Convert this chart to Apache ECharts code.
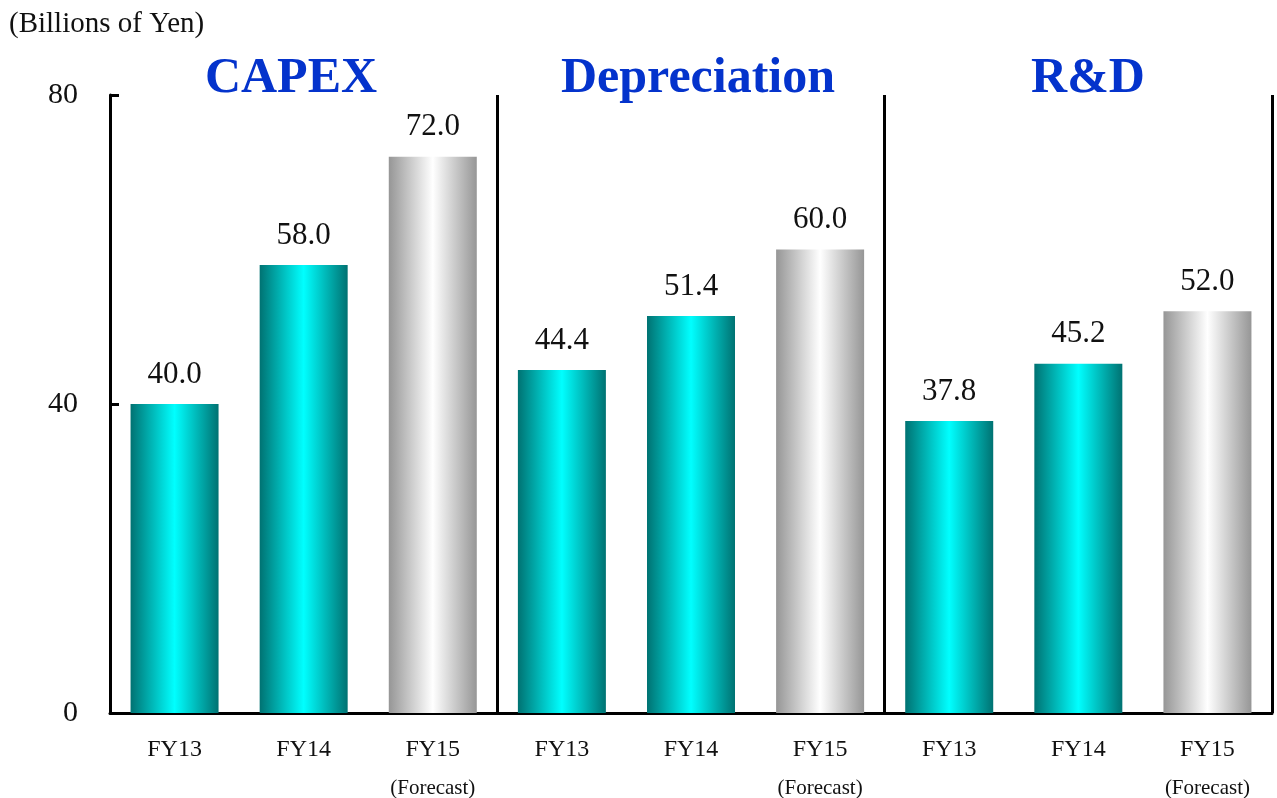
<!DOCTYPE html>
<html><head><meta charset="utf-8">
<script src="https://cdn.jsdelivr.net/npm/echarts@6/dist/echarts.min.js"></script>
<style>html,body{margin:0;padding:0;background:#fff}#c{width:1277px;height:798px}</style>
</head><body><div id="c"></div>
<script>
const groups = ['CAPEX', 'Depreciation', 'R&D'];
const periods = ['FY13', 'FY14', 'FY15'];
const capex = [40.0, 58.0, 72.0];
const depreciation = [44.4, 51.4, 60.0];
const rnd = [37.8, 45.2, 52.0];
const yTicks = [0, 40, 80];
const unitLabel = '(Billions of Yen)';
const forecastNote = '(Forecast)';

const serif = '"Liberation Serif", "DejaVu Serif", serif';
const categories = [];
groups.forEach(g => periods.forEach(p => categories.push(p)));
const values = [].concat(capex, depreciation, rnd);

function grad(edge, mid) {
  return new echarts.graphic.LinearGradient(0, 0, 1, 0, [
    {offset: 0, color: edge}, {offset: 0.5, color: mid}, {offset: 1, color: edge}
  ]);
}
const teal = grad('#007272', '#00ffff');
const gray = grad('#969696', '#ffffff');

const data = values.map((v, i) => ({
  value: v,
  itemStyle: {color: (i % 3 === 2) ? gray : teal}
}));

const titleStyle = {fontFamily: serif, fontSize: 50, fontWeight: 'bold', color: '#0433cc'};
const chart = echarts.init(document.getElementById('c'));
chart.setOption({
  animation: false,
  backgroundColor: '#fff',
  title: [
    {text: unitLabel, left: 4, top: 5, textStyle: {fontFamily: serif, fontSize: 29, fontWeight: 'normal', color: '#111'}},
    {text: groups[0], left: 286, top: 49, textAlign: 'center', textStyle: titleStyle},
    {text: groups[1], left: 693, top: 49, textAlign: 'center', textStyle: titleStyle},
    {text: groups[2], left: 1083, top: 49, textAlign: 'center', textStyle: titleStyle}
  ],
  grid: {left: 110, right: 5, top: 95, bottom: 85, containLabel: false, outerBoundsMode: 'none'},
  xAxis: [
    {
      type: 'category', data: categories, boundaryGap: true,
      axisLine: {lineStyle: {color: '#000', width: 3}},
      axisTick: {show: false},
      axisLabel: {
        interval: 0, margin: 17, fontFamily: serif, fontSize: 24, color: '#111', lineHeight: 40,
        formatter: (v, i) => (i % 3 === 2) ? v + '\n{f|' + forecastNote + '}' : v,
        rich: {f: {fontFamily: serif, fontSize: 21, color: '#111', lineHeight: 36}},
        verticalAlign: 'top', hideOverlap: false
      }
    },
    {
      type: 'value', min: 0, max: categories.length, interval: 3, position: 'bottom',
      axisLine: {show: false}, axisTick: {show: false}, axisLabel: {show: false},
      splitLine: {show: true, lineStyle: {color: '#000', width: 3, type: 'solid'}}
    }
  ],
  yAxis: {
    type: 'value', min: yTicks[0], max: yTicks[yTicks.length - 1], interval: yTicks[1] - yTicks[0],
    axisLine: {show: true, lineStyle: {color: '#000', width: 3}},
    axisTick: {show: true, inside: true, length: 9, lineStyle: {color: '#000', width: 3}},
    axisLabel: {margin: 32, fontFamily: serif, fontSize: 30, color: '#111'},
    splitLine: {show: false}
  },
  series: [{
    type: 'bar', xAxisIndex: 0, barWidth: 88,
    data: data,
    label: {
      show: true, position: 'top', distance: 14,
      formatter: p => p.value.toFixed(1),
      fontFamily: serif, fontSize: 31, color: '#111'
    }
  }]
});
</script></body></html>
